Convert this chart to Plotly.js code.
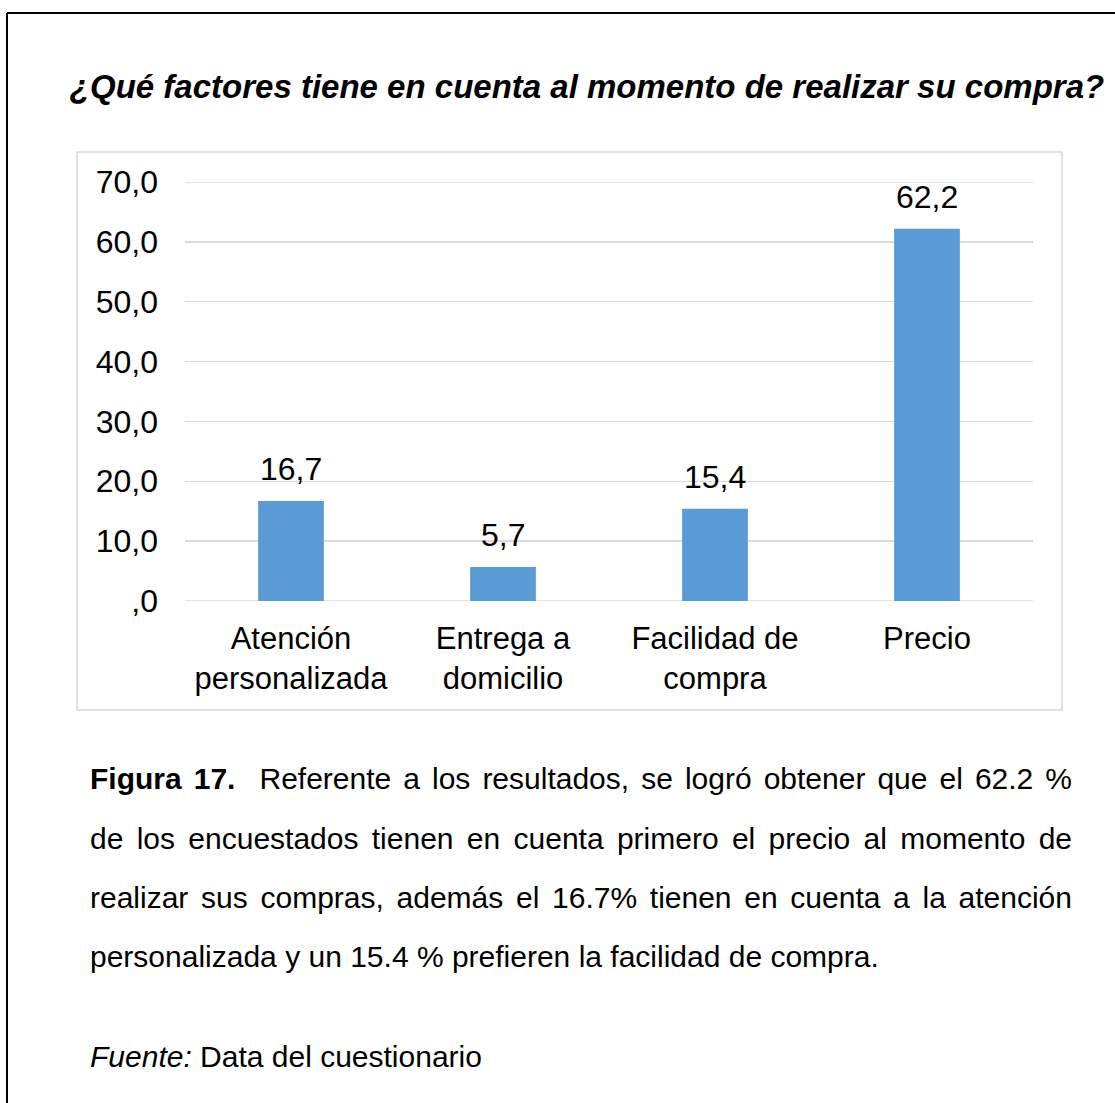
<!DOCTYPE html>
<html>
<head>
<meta charset="utf-8">
<script src="https://cdn.plot.ly/plotly-3.0.1.min.js"></script>
<style>
html,body{margin:0;padding:0;background:#fff;}
#chart{width:1115px;height:1103px;}
</style>
</head>
<body>
<div id="chart"></div>
<script>
// ---- data ----
const categories = ["Atención<br>personalizada", "Entrega a<br>domicilio", "Facilidad de<br>compra", "Precio"];
const values = [16.7, 5.7, 15.4, 62.2];
const yTickVals = [0, 10, 20, 30, 40, 50, 60, 70];
const yTickText = [",0", "10,0", "20,0", "30,0", "40,0", "50,0", "60,0", "70,0"];
const titleText = "<b><i>¿Qué factores tiene en cuenta al momento de realizar su compra?</i></b>";
const captionLines = [
  "<b>Figura 17.</b>  Referente a los resultados, se logró obtener que el 62.2 %",
  "de los encuestados tienen en cuenta primero el precio al momento de",
  "realizar sus compras, además el 16.7% tienen en cuenta a la atención",
  "personalizada y un 15.4 % prefieren la facilidad de compra."
];
const sourceText = "<i>Fuente:</i> Data del cuestionario";

// ---- layout geometry ----
const W = 1115, H = 1103;
const L = 185, R = 1033, T = 182, B = 601;
const px = x => (x - L) / (R - L);
const py = y => (B - y) / (B - T);
const FONT = "Liberation Sans, Arial, sans-serif";
const GRID = "#D9D9D9";

const trace = {
  type: "bar",
  x: categories,
  y: values,
  marker: {color: "#5B9BD5"},
  hoverinfo: "skip"
};

const annotations = values.map((v, i) => ({
  x: categories[i], y: v, xref: "x", yref: "y",
  text: v.toFixed(1).replace(".", ","),
  showarrow: false, yanchor: "bottom", yshift: 12,
  font: {family: FONT, size: 32, color: "#000"}
}));

const capY = [778, 838, 897, 956];
captionLines.forEach((t, i) => {
  annotations.push({
    xref: "paper", yref: "paper", x: px(88), y: py(capY[i]),
    xanchor: "left", yanchor: "middle", showarrow: false, align: "left",
    text: t, font: {family: FONT, size: 30, color: "#000"}
  });
});
annotations.push({
  xref: "paper", yref: "paper", x: px(88), y: py(1056),
  xanchor: "left", yanchor: "middle", showarrow: false, align: "left",
  text: sourceText, font: {family: FONT, size: 30, color: "#000"}
});

const yMin = yTickVals[0], yMax = yTickVals[yTickVals.length - 1];
const shapes = [
  // outer page border (top and left)
  {type: "line", xref: "paper", yref: "paper", x0: px(7), x1: px(1115), y0: py(13), y1: py(13), line: {color: "#000", width: 2}},
  {type: "line", xref: "paper", yref: "paper", x0: px(7), x1: px(7), y0: py(13), y1: py(1103), line: {color: "#000", width: 2}},
  // chart box
  {type: "rect", xref: "paper", yref: "paper", x0: px(77), x1: px(1062), y0: py(152), y1: py(710), line: {color: GRID, width: 1.5}},
  // gridlines at the range ends (Plotly drops grid lines on the plot edges)
  {type: "line", layer: "below", xref: "paper", yref: "y", x0: 0, x1: 1, y0: yMin, y1: yMin, line: {color: GRID, width: 1.5}},
  {type: "line", layer: "below", xref: "paper", yref: "y", x0: 0, x1: 1, y0: yMax, y1: yMax, line: {color: GRID, width: 1.5}}
];

const layout = {
  width: W, height: H,
  margin: {l: L, r: W - R, t: T, b: H - B, pad: 0},
  paper_bgcolor: "#fff", plot_bgcolor: "#fff",
  showlegend: false,
  bargap: 0.69,
  font: {family: FONT, color: "#000"},
  title: {
    text: titleText, xref: "paper", x: px(587), xanchor: "center",
    yref: "container", y: 1 - 86 / H, yanchor: "middle",
    font: {family: FONT, size: 33, color: "#000"}
  },
  xaxis: {
    type: "category", showgrid: false, zeroline: false, showline: false,
    ticks: "", tickfont: {family: FONT, size: 31, color: "#000"},
    ticklabelstandoff: 16, fixedrange: true
  },
  yaxis: {
    range: [yMin, yMax], tickvals: yTickVals, ticktext: yTickText,
    showgrid: true, gridcolor: GRID, gridwidth: 1.5,
    zeroline: false, showline: false, ticks: "",
    tickfont: {family: FONT, size: 32, color: "#000"},
    ticklabelstandoff: 26, fixedrange: true
  },
  shapes: shapes,
  annotations: annotations
};

Plotly.newPlot("chart", [trace], layout, {displayModeBar: false, staticPlot: true}).then(gd => {
  // justify the first three caption lines to the right margin (x = 1072)
  const targetRight = 1072;
  const plain = captionLines.slice(0, 3).map(c => c.replace(/<[^>]+>/g, ""));
  gd.querySelectorAll("text.annotation-text").forEach(t => {
    const content = t.textContent;
    if (!plain.includes(content)) return;
    const box = t.getBoundingClientRect();
    const spaces = (content.match(/ /g) || []).length;
    if (spaces > 0) t.style.wordSpacing = ((targetRight - box.right) / spaces) + "px";
  });
});
</script>
</body>
</html>
